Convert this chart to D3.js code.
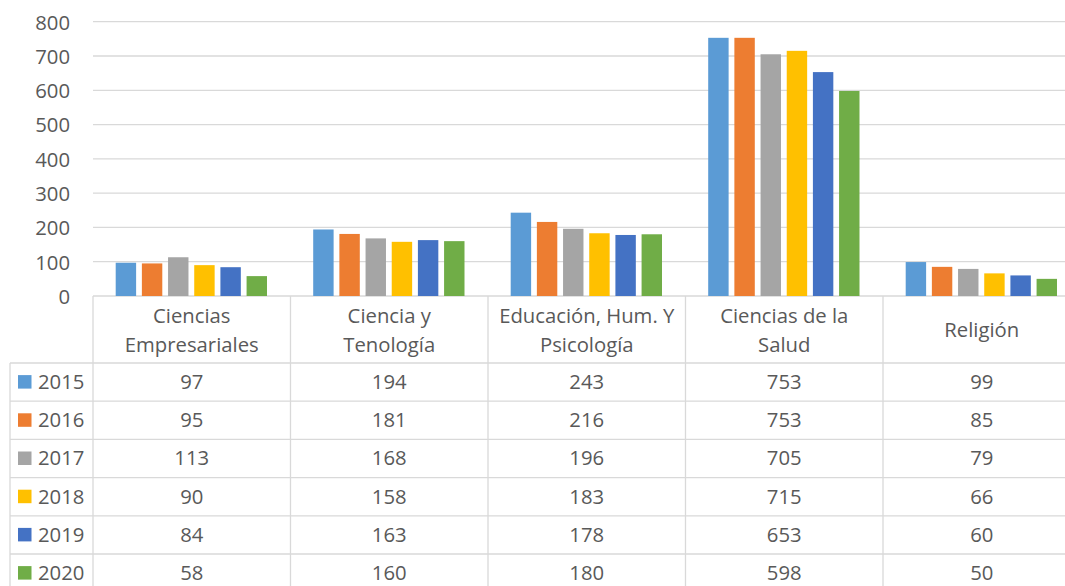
<!DOCTYPE html>
<html>
<head>
<meta charset="utf-8">
<script src="https://cdn.jsdelivr.net/npm/d3@7"></script>
<style>
  html, body { margin: 0; padding: 0; background: #fff; }
  svg { display: block; }
  text { font-family: "Open Sans", sans-serif; fill: #595959; }
</style>
</head>
<body>
<svg id="chart" width="1065" height="586"></svg>
<script>
const categories = ["Ciencias\nEmpresariales", "Ciencia y\nTenología", "Educación, Hum. Y\nPsicología", "Ciencias de la\nSalud", "Religión"];
const years = ["2015", "2016", "2017", "2018", "2019", "2020"];
const colors = ["#5B9BD5", "#ED7D31", "#A5A5A5", "#FFC000", "#4472C4", "#70AD47"];
const v2015 = [97, 194, 243, 753, 99];
const v2016 = [95, 181, 216, 753, 85];
const v2017 = [113, 168, 196, 705, 79];
const v2018 = [90, 158, 183, 715, 66];
const v2019 = [84, 163, 178, 653, 60];
const v2020 = [58, 160, 180, 598, 50];
const yTicks = [0, 100, 200, 300, 400, 500, 600, 700, 800];

const series = [v2015, v2016, v2017, v2018, v2019, v2020];

const svg = d3.select("#chart");
const plotLeft = 93, groupW = 197.5;
const plotRight = plotLeft + groupW * categories.length;
const yTop = 21.7, yBase = 296;
const tableLeft = 10, headerBottom = 363, rowH = 38.2;
const fs = 20.3;
const lineColor = "#D9D9D9";

const x0 = d3.scaleBand().domain(categories).range([plotLeft, plotRight]).padding(0);
const x1 = d3.scaleBand().domain(years).range([22.7, groupW - 23.5]).paddingInner(0.22);
const y = d3.scaleLinear().domain([0, 800]).range([yBase, yTop]);

// gridlines
svg.append("g").selectAll("line").data(yTicks).join("line")
  .attr("x1", plotLeft).attr("x2", plotRight)
  .attr("y1", d => y(d)).attr("y2", d => y(d))
  .attr("stroke", lineColor).attr("stroke-width", 1.3);

// y-axis labels
const yAxis = d3.axisLeft(y).tickValues(yTicks).tickSize(0).tickPadding(0);
const ga = svg.append("g").attr("transform", `translate(70,0)`).call(yAxis);
ga.select(".domain").remove();
ga.selectAll("text").attr("font-size", fs).attr("font-family", "Open Sans, sans-serif")
  .attr("fill", "#595959").attr("dy", "0.36em");

// bars
years.forEach((yr, i) => {
  svg.append("g").selectAll("rect").data(categories).join("rect")
    .attr("x", c => x0(c) + x1(yr))
    .attr("width", x1.bandwidth())
    .attr("y", (c, j) => y(series[i][j]))
    .attr("height", (c, j) => yBase - y(series[i][j]))
    .attr("fill", colors[i]);
});

// table lines
const tableBottom = headerBottom + rowH * years.length;
const tg = svg.append("g").attr("stroke", lineColor).attr("stroke-width", 1.3);
const bounds = categories.map(c => x0(c)).concat([plotRight]);
tg.selectAll("line.v").data(bounds).join("line").attr("class", "v")
  .attr("x1", d => d).attr("x2", d => d).attr("y1", yBase).attr("y2", tableBottom);
tg.append("line").attr("x1", tableLeft).attr("x2", tableLeft).attr("y1", headerBottom).attr("y2", tableBottom);
const rowLines = d3.range(years.length + 1).map(i => headerBottom + i * rowH);
tg.selectAll("line.h").data(rowLines).join("line").attr("class", "h")
  .attr("x1", tableLeft).attr("x2", plotRight).attr("y1", d => d).attr("y2", d => d);

// header labels
const hdr = svg.append("g").selectAll("text").data(categories).join("text")
  .attr("text-anchor", "middle").attr("font-size", fs)
  .attr("x", c => x0(c) + groupW / 2);
hdr.each(function(c) {
  const lines = c.split("\n");
  const mid = 330;
  const lh = 28.4;
  const t = d3.select(this);
  lines.forEach((ln, k) => {
    t.append("tspan").attr("x", x0(c) + groupW / 2)
      .attr("y", mid + (k - (lines.length - 1) / 2) * lh + fs * 0.36)
      .text(ln);
  });
});

// rows
years.forEach((yr, i) => {
  const cy = headerBottom + i * rowH + rowH / 2 - 0.5;
  svg.append("rect").attr("x", 18).attr("y", cy - 6.5).attr("width", 13.5).attr("height", 13.5).attr("fill", colors[i]);
  svg.append("text").attr("x", 38).attr("y", cy + fs * 0.36).attr("font-size", fs).text(yr);
  svg.append("g").selectAll("text").data(categories).join("text")
    .attr("text-anchor", "middle").attr("font-size", fs)
    .attr("x", c => x0(c) + groupW / 2)
    .attr("y", cy + fs * 0.36)
    .text((c, j) => series[i][j]);
});
</script>
</body>
</html>
